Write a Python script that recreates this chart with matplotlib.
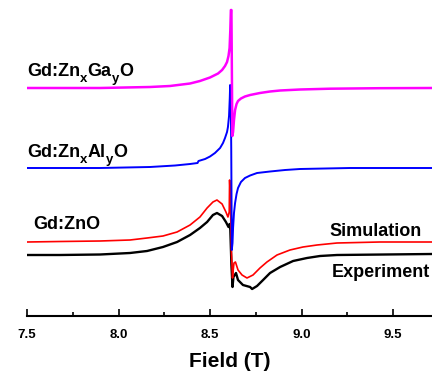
import numpy as np
import matplotlib
matplotlib.use("Agg")
import matplotlib.pyplot as plt
import matplotlib.transforms as mtransforms

plt.rcParams['font.family'] = ['Liberation Sans', 'DejaVu Sans']
plt.rcParams['font.weight'] = 'bold'

# ---- data (field in T, signal in a.u.) ----
ga_field = [7.5, 7.899, 8.172, 8.281, 8.391, 8.445, 8.5, 8.544, 8.566, 8.582, 8.593,
            8.601, 8.607, 8.611, 8.614, 8.617, 8.619, 8.622, 8.626, 8.631, 8.637, 8.645,
            8.653, 8.669, 8.691, 8.719, 8.773, 8.828, 8.883, 8.992, 9.156, 9.429, 9.713]
ga_signal = [0, 0, 1, 2, 4.5, 7, 10.5, 14.5, 18, 22, 26,
             32, 40, 58, 78, 78, 28, -48, -44, -32, -22, -16,
             -13, -10.5, -8.5, -7, -5, -3.5, -2.5, -1.5, -0.7, -0.2, 0]

al_field = [7.5, 7.899, 8.172, 8.309, 8.391, 8.432, 8.437, 8.473, 8.5, 8.527, 8.555,
            8.571, 8.582, 8.593, 8.598, 8.604, 8.608, 8.610, 8.613, 8.616, 8.619, 8.623,
            8.626, 8.631, 8.637, 8.645, 8.653, 8.669, 8.691, 8.719, 8.757, 8.828, 8.910,
            8.992, 9.265, 9.713]
al_signal = [0, 0, 1, 2.5, 4, 5, 7, 9, 11.5, 15, 20,
             25, 30, 36, 41, 52, 70, 83, 80, 20, -82, -75,
             -60, -45, -35, -26, -20, -14, -10, -7.5, -5, -3.5, -2,
             -1, 0, 0]

sim_field = [7.5, 7.680, 7.899, 8.063, 8.156, 8.243, 8.320, 8.391, 8.445, 8.484, 8.516,
             8.538, 8.566, 8.587, 8.598, 8.605, 8.607, 8.611, 8.617, 8.623, 8.628, 8.631,
             8.639, 8.653, 8.675, 8.702, 8.735, 8.773, 8.811, 8.866, 8.937, 9.008, 9.085,
             9.194, 9.429, 9.713]
sim_signal = [0, 0.5, 1, 2, 4, 6, 10, 17, 25, 34, 40,
              42, 38, 30, 25, 30, 62, 45, -10, -36, -26, -21,
              -20, -28, -33, -36, -33, -26, -20, -13, -8, -5, -3,
              -1, 0, 0]

exp_field = [7.5, 7.680, 7.899, 8.063, 8.156, 8.243, 8.320, 8.391, 8.445, 8.484, 8.516,
             8.538, 8.566, 8.587, 8.601, 8.607, 8.611, 8.617, 8.623, 8.628, 8.642, 8.653,
             8.680, 8.719, 8.730, 8.757, 8.790, 8.828, 8.883, 8.954, 9.030, 9.101, 9.194,
             9.713]
exp_signal = [0, 0, 0.5, 2, 4, 8, 13, 20, 27, 33, 40,
              42, 39, 33, 28, 31, 25, -10, -32, -22, -18, -25,
              -30, -32, -34, -31, -25, -18, -12, -6, -3, -1, 0,
              1]

offsets = {'exp': 61, 'sim': 74, 'al': 148, 'ga': 228}

sample_labels = [[('Gd:Zn', False), ('x', True), ('Ga', False), ('y', True), ('O', False)],
                 [('Gd:Zn', False), ('x', True), ('Al', False), ('y', True), ('O', False)],
                 [('Gd:ZnO', False)]]
curve_labels = ['Simulation', 'Experiment']
xticks = [7.5, 8.0, 8.5, 9.0, 9.5]

fig = plt.figure(figsize=(4.32, 3.72), dpi=100)
ax = fig.add_axes([27/432, 56/372, 1 - 27/432, 316/372])

ax.plot(exp_field, np.array(exp_signal) + offsets['exp'], color='black', lw=1.7)
ax.plot(sim_field, np.array(sim_signal) + offsets['sim'], color='#ff0000', lw=1.2)
ax.plot(al_field, np.array(al_signal) + offsets['al'], color='#0000ff', lw=1.4)
ax.plot(ga_field, np.array(ga_signal) + offsets['ga'], color='#ff00ff', lw=1.8)

ax.set_xlim(7.5, 9.713)
ax.set_ylim(0, 316)

for s in ['top', 'right', 'left']:
    ax.spines[s].set_visible(False)
ax.spines['bottom'].set_linewidth(1.5)
ax.set_yticks([])
ax.set_xticks(xticks)
ax.set_xticklabels([f'{v:.1f}' for v in xticks])
ax.set_xticks([7.75, 8.25, 8.75, 9.25], minor=True)
ax.tick_params(axis='x', which='major', direction='in', length=5, width=1.2,
               labelsize=9.5, pad=9)
ax.tick_params(axis='x', which='minor', direction='in', length=3, width=1.2)
for lbl in ax.get_xticklabels():
    lbl.set_fontweight('bold')
ax.set_xlabel('Field (T)', fontsize=15, fontweight='bold', labelpad=8.5)

fs = 13
sub_fs = 9.5
renderer = fig.canvas.get_renderer()


def chem_label(x, y, parts):
    dx = 0.0
    for txt, is_sub in parts:
        dy = -4.5 if is_sub else 0.0
        tr = mtransforms.offset_copy(ax.transData, fig=fig, x=dx, y=dy, units='points')
        t = ax.text(x, y, txt, transform=tr, fontsize=sub_fs if is_sub else fs,
                    fontweight='bold', ha='left', va='baseline')
        w = t.get_window_extent(renderer=renderer).width
        dx += w * 72.0 / fig.dpi


chem_label(7.5, 240, sample_labels[0])
chem_label(7.5, 159, sample_labels[1])
chem_label(7.533, 87, sample_labels[2])
ax.text(9.658, 80, curve_labels[0], fontsize=fs, fontweight='bold', ha='right', va='baseline')
ax.text(9.702, 39, curve_labels[1], fontsize=fs, fontweight='bold', ha='right', va='baseline')

fig.savefig('out.png', dpi=100)
